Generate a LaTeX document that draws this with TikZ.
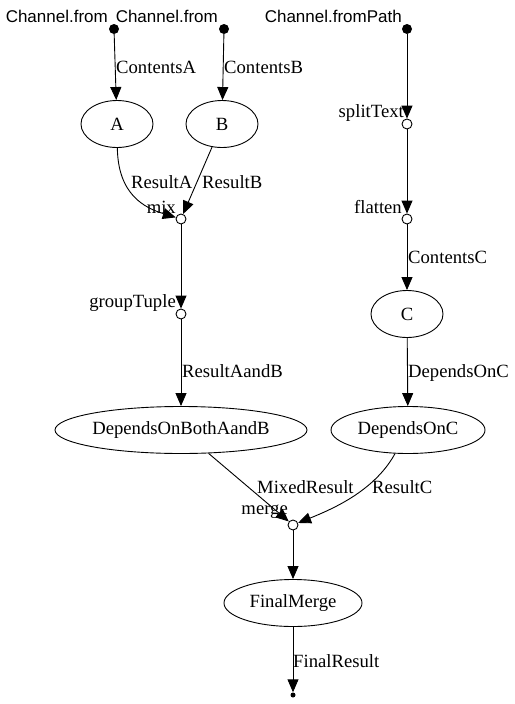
\documentclass[tikz,border=0pt]{standalone}
\usepackage{fontspec}
\setmainfont{Liberation Serif}
\newfontfamily\lsans{Liberation Sans}
\usetikzlibrary{arrows.meta,shapes.geometric}
\begin{document}
\begin{tikzpicture}[x=1pt,y=-1pt,
  every node/.style={font=\fontsize{18.67}{22}\selectfont},
  proc/.style={draw,ellipse,minimum height=47pt,inner sep=0,line width=0.9pt},
  src/.style={circle,fill=black,minimum size=10pt,inner sep=0},
  op/.style={circle,draw,fill=white,minimum size=10pt,inner sep=0,line width=0.9pt},
  sink/.style={circle,fill=black,minimum size=5pt,inner sep=0},
  lbl/.style={inner sep=0,anchor=base west},
  oplbl/.style={inner sep=0,anchor=base east},
  srclbl/.style={inner sep=0,anchor=base east,font=\lsans\fontsize{17}{20}\selectfont},
  edge/.style={draw,line width=0.9pt,-{Triangle[length=13pt,width=11pt]}}
]
\useasboundingbox (0,0) rectangle (514,704);

% sources
\node[src] (sA) at (114,29) {};
\node[src] (sB) at (224,29) {};
\node[src] (sC) at (407,29) {};
\node[srclbl] (lsA) at (108,22) {Channel.from};
\node[srclbl] (lsB) at (218,22) {Channel.from};
\node[srclbl] (lsC) at (402,22) {Channel.fromPath};

% processes
\node[proc,minimum width=72pt] (A) at (117,124) {A};
\node[proc,minimum width=72pt] (B) at (222,124) {B};
\node[proc,minimum width=72pt] (C) at (407,314) {C};
\node[proc,minimum width=252pt] (DOB) at (181,430) {DependsOnBothAandB};
\node[proc,minimum width=154pt] (DOC) at (408,430) {DependsOnC};
\node[proc,minimum width=138pt] (FM) at (293,603) {FinalMerge};

% operators
\node[op] (mix) at (181,219) {};
\node[op] (split) at (407,124) {};
\node[op] (flat) at (407,219) {};
\node[op] (group) at (181,314) {};
\node[op] (merge) at (293,525) {};
\node[sink] (end) at (293,695) {};

\node[oplbl] (lmix) at (176,213) {mix};
\node[oplbl] (lsplit) at (404,117) {splitText};
\node[oplbl] (lflat) at (402,213) {flatten};
\node[oplbl] (lgroup) at (176,307) {groupTuple};
\node[oplbl] (lmerge) at (288,514) {merge};

% edge labels
\node[lbl] (eA) at (116,73) {ContentsA};
\node[lbl] (eB) at (224,73) {ContentsB};
\node[lbl] (eRA) at (131,188) {ResultA};
\node[lbl] (eRB) at (202,188) {ResultB};
\node[lbl] (eAB) at (182,377) {ResultAandB};
\node[lbl] (eCC) at (408,263) {ContentsC};
\node[lbl] (eDC) at (408,377) {DependsOnC};
\node[lbl] (eMR) at (257,493) {MixedResult};
\node[lbl] (eRC) at (372,493) {ResultC};
\node[lbl] (eFR) at (293,667) {FinalResult};

% edges
\draw[edge] (sA) -- (A);
\draw[edge] (sB) -- (B);
\draw[edge] (A) .. controls (118,195) and (145,208) .. (mix);
\draw[edge] (B) -- (mix);
\draw[edge] (mix) -- (group);
\draw[edge] (group) -- (DOB);
\draw[edge] (sC) -- (split);
\draw[edge] (split) -- (flat);
\draw[edge] (flat) -- (C);
\draw[edge] (C) -- (DOC);
\draw[edge] (DOB) -- (merge);
\draw[edge] (DOC) .. controls (375,490) and (335,508) .. (merge);
\draw[edge] (merge) -- (FM);
\draw[edge] (FM) -- (end);
\end{tikzpicture}
\end{document}
